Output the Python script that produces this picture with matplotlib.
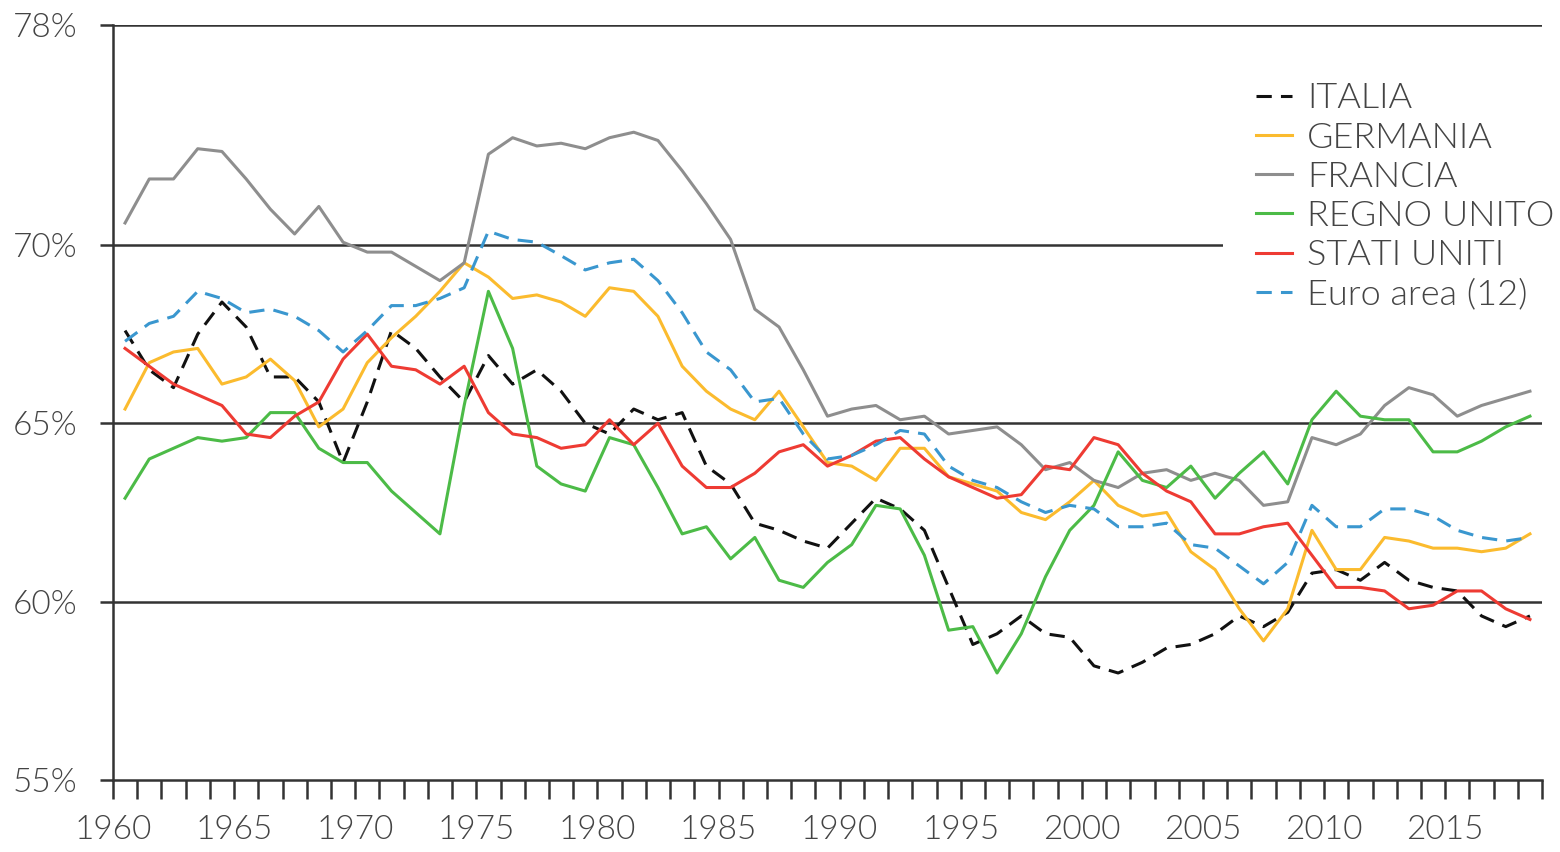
import numpy as np
import matplotlib
matplotlib.use("Agg")
import matplotlib.pyplot as plt
from matplotlib.ticker import FixedLocator, FuncFormatter

plt.rcParams['font.family'] = ['Lato', 'DejaVu Sans']
plt.rcParams['font.weight'] = 300

years = np.arange(1960, 2019)

italia = [67.6, 66.5, 66.0, 67.5, 68.4, 67.7, 66.3, 66.3, 65.6, 63.9,
          65.6, 67.6, 67.1, 66.3, 65.6, 66.9, 66.1, 66.5, 65.9, 65.0,
          64.7, 65.4, 65.1, 65.3, 63.8, 63.3, 62.2, 62.0, 61.7, 61.5,
          62.2, 62.9, 62.6, 62.0, 60.4, 58.8, 59.1, 59.6, 59.1, 59.0,
          58.2, 58.0, 58.3, 58.7, 58.8, 59.1, 59.6, 59.3, 59.7, 60.8,
          60.9, 60.6, 61.1, 60.6, 60.4, 60.3, 59.6, 59.3, 59.6]
germania = [65.4, 66.7, 67.0, 67.1, 66.1, 66.3, 66.8, 66.2, 64.9, 65.4,
            66.7, 67.4, 68.0, 68.7, 69.5, 69.1, 68.5, 68.6, 68.4, 68.0,
            68.8, 68.7, 68.0, 66.6, 65.9, 65.4, 65.1, 65.9, 64.9, 63.9,
            63.8, 63.4, 64.3, 64.3, 63.5, 63.3, 63.1, 62.5, 62.3, 62.8,
            63.4, 62.7, 62.4, 62.5, 61.4, 60.9, 59.8, 58.9, 59.8, 62.0,
            60.9, 60.9, 61.8, 61.7, 61.5, 61.5, 61.4, 61.5, 61.9]
francia = [70.8, 72.4, 72.4, 73.5, 73.4, 72.4, 71.3, 70.4, 71.4, 70.1,
           69.8, 69.8, 69.4, 69.0, 69.5, 73.3, 73.9, 73.6, 73.7, 73.5,
           73.9, 74.1, 73.8, 72.7, 71.5, 70.2, 68.2, 67.7, 66.5, 65.2,
           65.4, 65.5, 65.1, 65.2, 64.7, 64.8, 64.9, 64.4, 63.7, 63.9,
           63.4, 63.2, 63.6, 63.7, 63.4, 63.6, 63.4, 62.7, 62.8, 64.6,
           64.4, 64.7, 65.5, 66.0, 65.8, 65.2, 65.5, 65.7, 65.9]
regno_unito = [62.9, 64.0, 64.3, 64.6, 64.5, 64.6, 65.3, 65.3, 64.3, 63.9,
               63.9, 63.1, 62.5, 61.9, 65.5, 68.7, 67.1, 63.8, 63.3, 63.1,
               64.6, 64.4, 63.2, 61.9, 62.1, 61.2, 61.8, 60.6, 60.4, 61.1,
               61.6, 62.7, 62.6, 61.3, 59.2, 59.3, 58.0, 59.1, 60.7, 62.0,
               62.7, 64.2, 63.4, 63.2, 63.8, 62.9, 63.6, 64.2, 63.3, 65.1,
               65.9, 65.2, 65.1, 65.1, 64.2, 64.2, 64.5, 64.9, 65.2]
stati_uniti = [67.1, 66.6, 66.1, 65.8, 65.5, 64.7, 64.6, 65.2, 65.6, 66.8,
               67.5, 66.6, 66.5, 66.1, 66.6, 65.3, 64.7, 64.6, 64.3, 64.4,
               65.1, 64.4, 65.0, 63.8, 63.2, 63.2, 63.6, 64.2, 64.4, 63.8,
               64.1, 64.5, 64.6, 64.0, 63.5, 63.2, 62.9, 63.0, 63.8, 63.7,
               64.6, 64.4, 63.6, 63.1, 62.8, 61.9, 61.9, 62.1, 62.2, 61.3,
               60.4, 60.4, 60.3, 59.8, 59.9, 60.3, 60.3, 59.8, 59.5]
euro_area = [67.3, 67.8, 68.0, 68.7, 68.5, 68.1, 68.2, 68.0, 67.6, 67.0,
             67.6, 68.3, 68.3, 68.5, 68.8, 70.5, 70.2, 70.1, 69.7, 69.3,
             69.5, 69.6, 69.0, 68.1, 67.0, 66.5, 65.6, 65.7, 64.7, 64.0,
             64.1, 64.4, 64.8, 64.7, 63.8, 63.4, 63.2, 62.8, 62.5, 62.7,
             62.6, 62.1, 62.1, 62.2, 61.6, 61.5, 61.0, 60.5, 61.1, 62.7,
             62.1, 62.1, 62.6, 62.6, 62.4, 62.0, 61.8, 61.7, 61.8]

y_ticks = [55, 60, 65, 70, 78]

# the top band (70-78) is drawn compressed in the original
K = 0.771


def fwd(v):
    v = np.asarray(v, dtype=float)
    return np.where(v <= 70, v, 70 + (v - 70) * K)


def inv(v):
    v = np.asarray(v, dtype=float)
    return np.where(v <= 70, v, 70 + (v - 70) / K)


fig = plt.figure(figsize=(15.6, 8.52), dpi=100)
ax = fig.add_axes([0.0724, 0.0845, 0.9161, 0.8862])
ax.set_yscale('function', functions=(fwd, inv))
ax.set_ylim(55, 78)
ax.set_xlim(1960, 2019)

grid_c = '#333333'
for v in y_ticks[1:]:
    ax.axhline(v, color=grid_c, lw=1.8, zorder=1)

x = years + 0.5
lw = 2.2
ax.plot(x, italia, color='#111111', lw=lw, dashes=(5, 3), label='ITALIA', zorder=3)
ax.plot(x, germania, color='#FBBB2E', lw=lw, label='GERMANIA', zorder=3)
ax.plot(x, francia, color='#8E8E8E', lw=lw, label='FRANCIA', zorder=3)
ax.plot(x, regno_unito, color='#4CBB47', lw=lw, label='REGNO UNITO', zorder=3)
ax.plot(x, stati_uniti, color='#EE3B33', lw=lw, label='STATI UNITI', zorder=3)
ax.plot(x, euro_area, color='#3A97CF', lw=lw, dashes=(5, 3), label='Euro area (12)', zorder=3)

for s in ['top', 'right']:
    ax.spines[s].set_visible(False)
for s in ['left', 'bottom']:
    ax.spines[s].set_color(grid_c)
    ax.spines[s].set_linewidth(1.8)

ax.yaxis.set_major_locator(FixedLocator(y_ticks))
ax.yaxis.set_major_formatter(FuncFormatter(lambda v, p: '%d%%' % round(v)))
ax.yaxis.set_minor_locator(FixedLocator([]))
ax.xaxis.set_major_locator(FixedLocator(list(range(1960, 2020))))
ax.xaxis.set_major_formatter(FuncFormatter(lambda v, p: str(int(v)) if int(v) % 5 == 0 and v < 2019 else ''))
ax.tick_params(axis='y', direction='out', length=9.5, width=1.8, color=grid_c,
               labelsize=24, labelcolor='#444444', pad=16)
ax.tick_params(axis='x', direction='out', length=13.5, width=1.8, color=grid_c,
               labelsize=24, labelcolor='#444444', pad=12)

leg = ax.legend(loc='upper right', bbox_to_anchor=(1.0315, 0.967), frameon=True,
                fontsize=26, handlelength=1.0, handletextpad=0.42, labelspacing=0.2,
                borderpad=0.9, borderaxespad=0)
leg.get_frame().set_facecolor('white')
leg.get_frame().set_edgecolor('none')
leg.get_frame().set_alpha(1)
leg.set_zorder(5)
for t in leg.get_texts():
    t.set_color('#444444')

fig.savefig('out.png', dpi=100)
